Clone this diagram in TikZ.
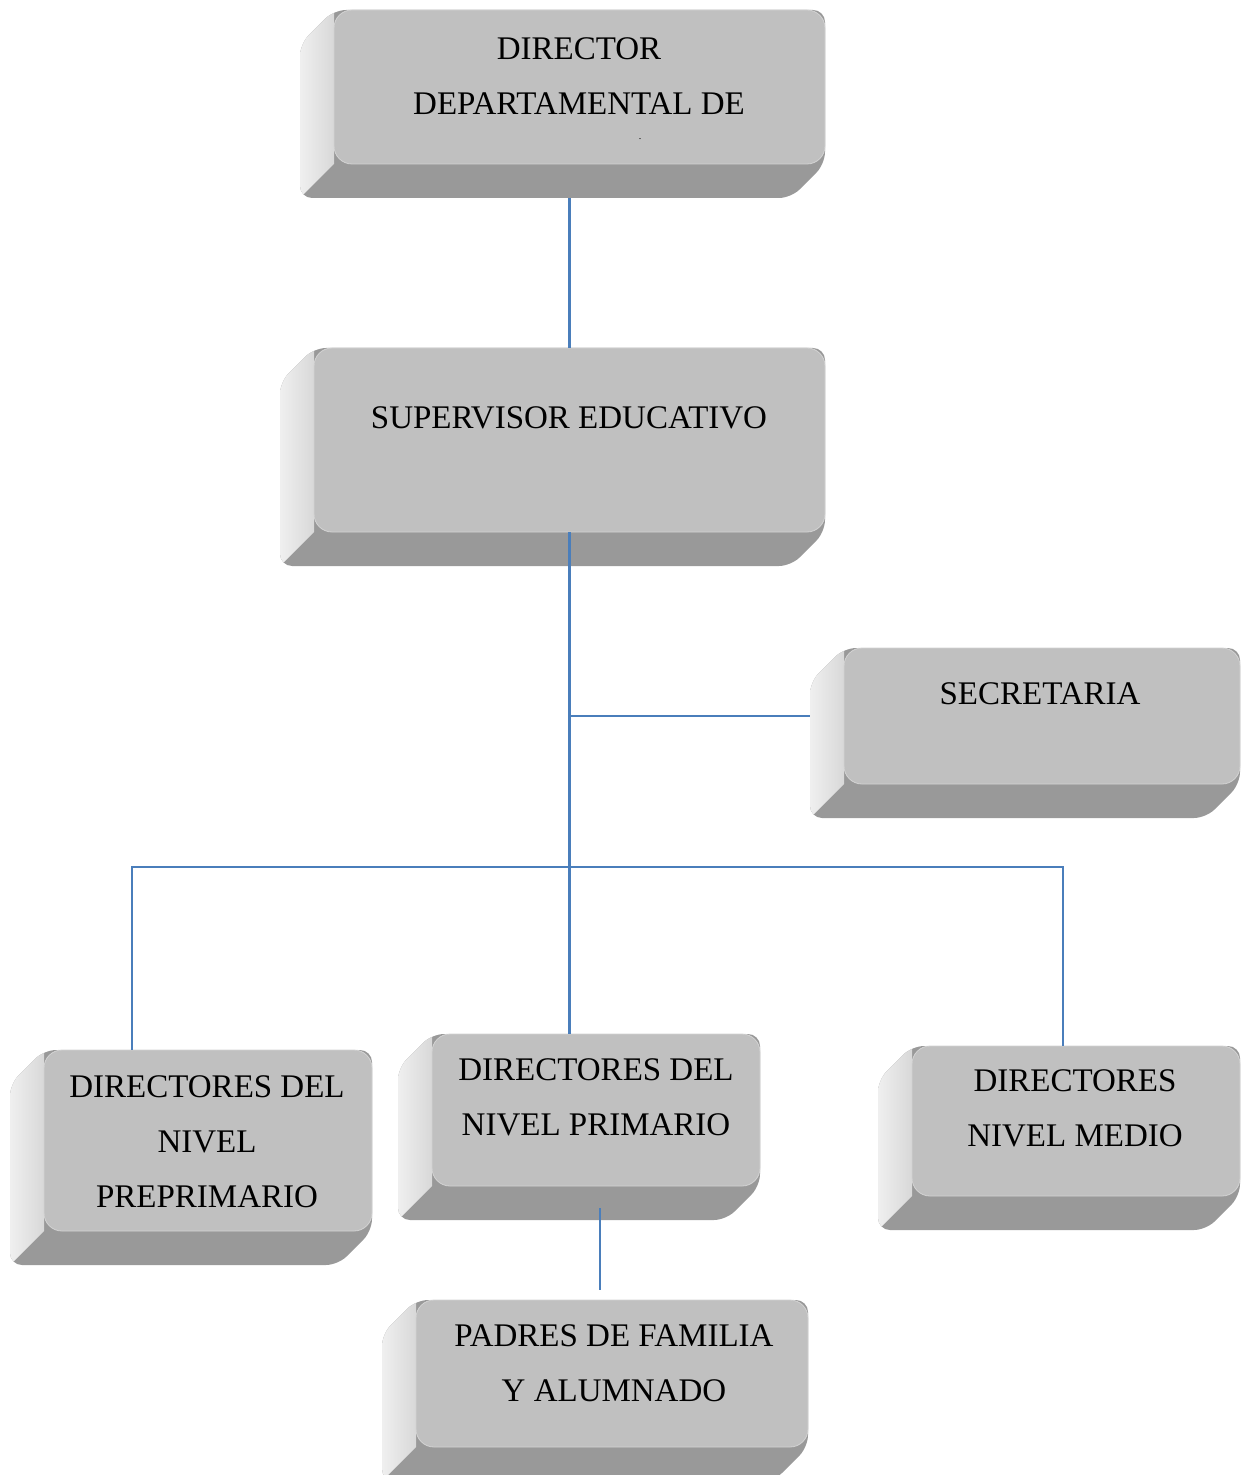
\documentclass[tikz,border=0pt]{standalone}
\usepackage{fontspec}
\setmainfont{Liberation Serif}
\usetikzlibrary{fit,calc}
\definecolor{caraF}{HTML}{C0C0C0}
\definecolor{caraB}{HTML}{999999}
\definecolor{caraL}{HTML}{D8D8D8}
\definecolor{lblue}{HTML}{4A7EBB}

% caja 3D: nombre, x1, y1, x2, y2 (exterior), fondo
\newcommand{\caja}[6]{%
  \fill[caraB,rounded corners=6pt] (#2+#6,#3) -- (#4,#3) -- (#4,#5-#6) -- (#4-#6,#5) -- (#2,#5) -- (#2,#3+#6) -- cycle;
  \begin{scope}
    \clip[rounded corners=6pt] (#2+#6,#3) -- (#4,#3) -- (#4,#5-#6) -- (#4-#6,#5) -- (#2,#5) -- (#2,#3+#6) -- cycle;
    \shade[left color=caraL!40!white,right color=caraL] (#2,#3) -- (#2+#6,#3) -- (#2+#6,#5-#6) -- (#2,#5) -- cycle;
  \end{scope}
  \filldraw[fill=caraF,draw=caraF!70!white,line width=0.4pt,rounded corners=9pt] (#2+#6,#3) rectangle (#4,#5-#6);
  \node[fit={(#2,#3) (#4,#5)},inner sep=0pt] (#1) {};
  \node[fit={(#2+#6,#3) (#4,#5-#6)},inner sep=0pt] (#1f) {};
}

\begin{document}
\begin{tikzpicture}[x=0.5pt,y=-0.5pt,
  txt/.style={font=\fontsize{16.5}{27.5}\selectfont,align=center,inner sep=0pt},
  conn/.style={draw=lblue,line width=1.1pt}]
\useasboundingbox (0,0) rectangle (1242,1475);

% cajas
\caja{top}{300}{10}{825}{198}{34}
\caja{sup}{280}{348}{825}{566}{34}
\caja{sec}{810}{648}{1240}{818}{34}
\caja{pre}{10}{1050}{372}{1265}{34}
\caja{prim}{398}{1034}{760}{1220}{34}
\caja{med}{878}{1046}{1240}{1230}{34}
\caja{pad}{382}{1300}{808}{1481}{34}

% textos
\node[txt] (topT) at (579,76) {DIRECTOR\\DEPARTAMENTAL DE};
\node[txt,font=\tiny] (topDot) at (640,139) {.};
\node[txt] (supT) at (569,418) {SUPERVISOR EDUCATIVO};
\node[txt] (secT) at (1040,694) {SECRETARIA};
\node[txt] (preT) at (207,1142) {DIRECTORES DEL\\NIVEL\\PREPRIMARIO};
\node[txt] (primT) at (596,1097) {DIRECTORES DEL\\NIVEL PRIMARIO};
\node[txt] (medT) at (1075,1108) {DIRECTORES\\NIVEL MEDIO};
\node[txt] (padT) at (614,1363) {PADRES DE FAMILIA\\Y ALUMNADO};

% lineas
\coordinate (busL) at (132,867);
\coordinate (busR) at (1063,867);
\draw[conn] (top.south -| supf.north) -- (supf.north);
\draw[conn] (supf.south) -- (supf.south |- primf.north);
\draw[conn] (supf.south |- secf.west) -- (sec.west |- secf.west);
\draw[conn] (busL |- pre.north) -- (busL) -- (busR) -- (busR |- med.north);
\draw[conn] ($(prim.south -| padf.north)+(-12,-12)$) -- ($(padf.north)+(-12,-10)$);
\end{tikzpicture}
\end{document}
